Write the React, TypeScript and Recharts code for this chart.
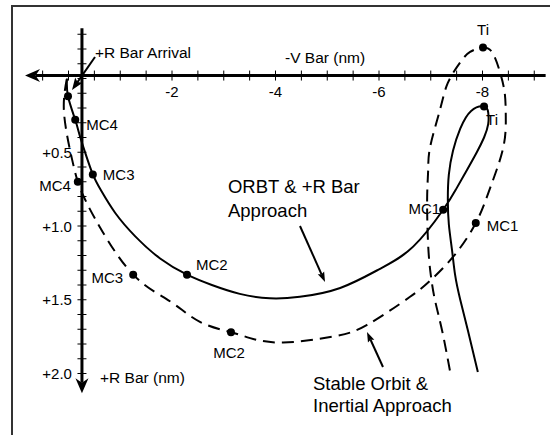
import { ComposedChart, Line, Scatter, XAxis, YAxis, ReferenceLine, ReferenceDot } from "recharts";

const FONT = "'Liberation Sans', Arial, Helvetica, sans-serif";

// ORBT & +R Bar approach (solid). V-bar and R-bar in nm
const orbtV = [-7.91, -7.74, -7.57, -7.47, -7.41, -7.35, -7.33, -7.35, -7.43, -7.57, -7.78, -8.03, -8.11, -8.11, -8.03, -7.89, -7.7, -7.49, -7.24, -6.66, -6.02, -5.25, -4.47, -3.89, -3.31, -2.77, -2.29, -1.77, -1.29, -0.9, -0.63, -0.47, -0.32, -0.22, -0.13, 0.01, 0.03];
const orbtR = [1.99, 1.74, 1.5, 1.33, 1.16, 0.99, 0.82, 0.65, 0.49, 0.34, 0.22, 0.19, 0.23, 0.31, 0.4, 0.5, 0.62, 0.75, 0.89, 1.14, 1.29, 1.42, 1.48, 1.49, 1.46, 1.4, 1.33, 1.22, 1.07, 0.91, 0.76, 0.65, 0.5, 0.39, 0.28, 0.12, 0.0];

// Stable orbit & inertial approach (dashed)
const stableV = [-7.37, -7.22, -7.08, -7.0, -6.95, -6.93, -6.95, -6.99, -7.18, -7.33, -7.57, -7.76, -8.01, -8.2, -8.34, -8.43, -8.45, -8.4, -8.15, -7.87, -7.43, -6.99, -6.6, -5.77, -5.11, -4.15, -3.51, -3.14, -2.54, -1.96, -1.25, -0.61, -0.32, -0.18, -0.07, 0.03, 0.09, 0.07, 0.03];
const stableR = [1.98, 1.71, 1.5, 1.33, 1.13, 0.82, 0.62, 0.46, 0.21, 0.03, -0.11, -0.18, -0.21, -0.17, -0.04, 0.1, 0.26, 0.47, 0.74, 0.98, 1.21, 1.37, 1.48, 1.67, 1.75, 1.79, 1.76, 1.72, 1.65, 1.51, 1.33, 1.01, 0.82, 0.7, 0.55, 0.38, 0.21, 0.08, 0.0];

// burn points
const markerNames = ["Ti", "Ti", "MC1", "MC1", "MC2", "MC2", "MC3", "MC3", "MC4", "MC4", ""];
const markerV = [-8.01, -8.03, -7.24, -7.87, -2.29, -3.14, -0.47, -1.25, -0.13, -0.18, 0.01];
const markerR = [-0.21, 0.19, 0.89, 0.98, 1.33, 1.72, 0.65, 1.33, 0.28, 0.7, 0.12];

const vTicks = [0.5, 0, -0.5, -1, -1.5, -2, -2.5, -3, -3.5, -4, -4.5, -5, -5.5, -6, -6.5, -7, -7.5, -8, -8.5, -9];
const vLabelValues = [-2, -4, -6, -8];
const vLabels = ["-2", "-4", "-6", "-8"];
const rTicks = [-0.3, -0.2, -0.1, 0, 0.1, 0.2, 0.3, 0.4, 0.5, 0.6, 0.7, 0.8, 0.9, 1.0, 1.1, 1.2, 1.3, 1.4, 1.5, 1.6, 1.7, 1.8, 1.9, 2.0];
const rLabelValues = [0.5, 1.0, 1.5, 2.0];
const rLabels = ["+0.5", "+1.0", "+1.5", "+2.0"];

// where the drawn axes sit
const V_AXIS_AT = -0.26;
const R_AXIS_AT = -0.02;

// label offsets (px) for each marker, same order as markerNames
const markerLabelPos = [
  { dx: 0, dy: -18, anchor: "middle" },
  { dx: 2, dy: 13, anchor: "start" },
  { dx: -3, dy: -1, anchor: "end" },
  { dx: 11, dy: 2, anchor: "start" },
  { dx: 9, dy: -10, anchor: "start" },
  { dx: -2, dy: 20, anchor: "middle" },
  { dx: 10, dy: 0, anchor: "start" },
  { dx: -10, dy: 3, anchor: "end" },
  { dx: 11, dy: 5, anchor: "start" },
  { dx: -7, dy: 4, anchor: "end" },
  { dx: 0, dy: 0, anchor: "start" },
];

const orbt = orbtV.map((x, i) => ({ x, y: orbtR[i] }));
const stable = stableV.map((x, i) => ({ x, y: stableR[i] }));
const markers = markerNames.map((name, i) => ({ x: markerV[i], y: markerR[i], name, i }));

function arrowShape(len: number, half: number, notch: number, width: number) {
  return (p: any) => {
    const { x1, y1, x2, y2 } = p;
    const d = Math.hypot(x2 - x1, y2 - y1) || 1;
    const ux = (x2 - x1) / d;
    const uy = (y2 - y1) / d;
    const bx = x2 - ux * len;
    const by = y2 - uy * len;
    const nx = x2 - ux * len * notch;
    const ny = y2 - uy * len * notch;
    const head = `M${x2},${y2} L${bx - uy * half},${by + ux * half} L${nx},${ny} L${bx + uy * half},${by - ux * half} Z`;
    return (
      <g>
        <line x1={x1} y1={y1} x2={nx} y2={ny} stroke="#000" strokeWidth={width} />
        <path d={head} fill="#000" />
      </g>
    );
  };
}

function textShape(lines: string[], size: number, gap: number) {
  return (p: any) => (
    <text x={p.cx} y={p.cy} fontFamily={FONT} fontSize={size} fill="#000" dominantBaseline="central">
      {lines.map((t, k) => (
        <tspan key={k} x={p.cx} dy={k === 0 ? 0 : gap}>
          {t}
        </tspan>
      ))}
    </text>
  );
}

const MarkerShape = (p: any) => {
  const d = p.payload ?? p;
  const pos = markerLabelPos[d.i];
  return (
    <g>
      <circle cx={p.cx} cy={p.cy} r={4} fill="#000" />
      {d.name ? (
        <text
          x={p.cx + pos.dx}
          y={p.cy + pos.dy}
          textAnchor={pos.anchor}
          dominantBaseline="central"
          fontFamily={FONT}
          fontSize={15}
          fill="#000"
        >
          {d.name}
        </text>
      ) : null}
    </g>
  );
};

export default function App() {
  return (
    <div style={{ position: "absolute", left: 0, top: 0, width: 550, height: 435, background: "#fff", overflow: "hidden" }}>
      <div
        style={{
          position: "absolute",
          left: 11,
          top: 5,
          width: 560,
          height: 460,
          borderTop: "2px solid #333",
          borderLeft: "2px solid #333",
        }}
      />
      <div style={{ position: "absolute", left: 0, top: 0 }}>
        <ComposedChart width={550} height={435} margin={{ top: 4.75, right: 0.225, bottom: 2.5, left: 11.575 }}>
          <XAxis type="number" dataKey="x" domain={[-9.3, 1.1]} reversed allowDataOverflow hide />
          <YAxis type="number" dataKey="y" domain={[-0.5, 2.4]} reversed allowDataOverflow hide />

          {/* -V bar axis, arrow to the left */}
          <ReferenceLine
            segment={[{ x: -9.22, y: R_AXIS_AT }, { x: 0.84, y: R_AXIS_AT }]}
            ifOverflow="visible"
            shape={arrowShape(15, 6.5, 0.7, 3)}
          />
          {/* +R bar axis, arrow down */}
          <ReferenceLine
            segment={[{ x: V_AXIS_AT, y: -0.34 }, { x: V_AXIS_AT, y: 2.134 }]}
            ifOverflow="visible"
            shape={arrowShape(15, 6.5, 0.7, 3)}
          />
          {vTicks.map((v) => (
            <ReferenceDot
              key={"vt" + v}
              x={v}
              y={R_AXIS_AT}
              ifOverflow="visible"
              shape={(p: any) => <line x1={p.cx} x2={p.cx} y1={p.cy - 5} y2={p.cy + 5} stroke="#000" strokeWidth={1} />}
            />
          ))}
          {rTicks.map((r) => (
            <ReferenceDot
              key={"rt" + r}
              x={V_AXIS_AT}
              y={r}
              ifOverflow="visible"
              shape={(p: any) => <line x1={p.cx - 4.5} x2={p.cx + 4.5} y1={p.cy} y2={p.cy} stroke="#000" strokeWidth={1} />}
            />
          ))}
          {vLabelValues.map((v, i) => (
            <ReferenceDot
              key={"vl" + v}
              x={v}
              y={R_AXIS_AT}
              ifOverflow="visible"
              shape={(p: any) => (
                <text x={p.cx} y={p.cy + 16} textAnchor="middle" dominantBaseline="central" fontFamily={FONT} fontSize={15} fill="#000">
                  {vLabels[i]}
                </text>
              )}
            />
          ))}
          {rLabelValues.map((r, i) => (
            <ReferenceDot
              key={"rl" + r}
              x={V_AXIS_AT}
              y={r}
              ifOverflow="visible"
              shape={(p: any) => (
                <text x={p.cx - 10} y={p.cy} textAnchor="end" dominantBaseline="central" fontFamily={FONT} fontSize={15} fill="#000">
                  {rLabels[i]}
                </text>
              )}
            />
          ))}

          <Line
            data={orbt}
            dataKey="y"
            type="natural"
            stroke="#000"
            strokeWidth={2}
            dot={false}
            activeDot={false}
            isAnimationActive={false}
          />
          <Line
            data={stable}
            dataKey="y"
            type="natural"
            stroke="#000"
            strokeWidth={2}
            strokeDasharray="12 7"
            dot={false}
            activeDot={false}
            isAnimationActive={false}
          />
          <Scatter data={markers} dataKey="y" shape={MarkerShape} isAnimationActive={false} />

          {/* annotations */}
          <ReferenceDot x={-0.512} y={-0.18} ifOverflow="visible" shape={textShape(["+R Bar Arrival"], 15.5, 0)} />
          <ReferenceDot x={-4.184} y={-0.146} ifOverflow="visible" shape={textShape(["-V Bar (nm)"], 15.5, 0)} />
          <ReferenceDot x={-0.609} y={2.024} ifOverflow="visible" shape={textShape(["+R Bar (nm)"], 15.5, 0)} />
          <ReferenceDot x={-3.082} y={0.729} ifOverflow="visible" shape={textShape(["ORBT & +R Bar", "Approach"], 18.5, 24)} />
          <ReferenceDot x={-4.725} y={2.064} ifOverflow="visible" shape={textShape(["Stable Orbit &", "Inertial Approach"], 18.5, 22)} />

          <ReferenceLine
            segment={[{ x: -0.512, y: -0.146 }, { x: -0.068, y: 0.078 }]}
            ifOverflow="visible"
            shape={arrowShape(12, 4.5, 0.8, 2)}
          />
          <ReferenceLine
            segment={[{ x: -4.473, y: 1.0 }, { x: -4.957, y: 1.38 }]}
            ifOverflow="visible"
            shape={arrowShape(10, 3.5, 0.85, 2)}
          />
          <ReferenceLine
            segment={[{ x: -6.077, y: 1.956 }, { x: -5.768, y: 1.719 }]}
            ifOverflow="visible"
            shape={arrowShape(10, 3.5, 0.85, 2)}
          />
        </ComposedChart>
      </div>
    </div>
  );
}
